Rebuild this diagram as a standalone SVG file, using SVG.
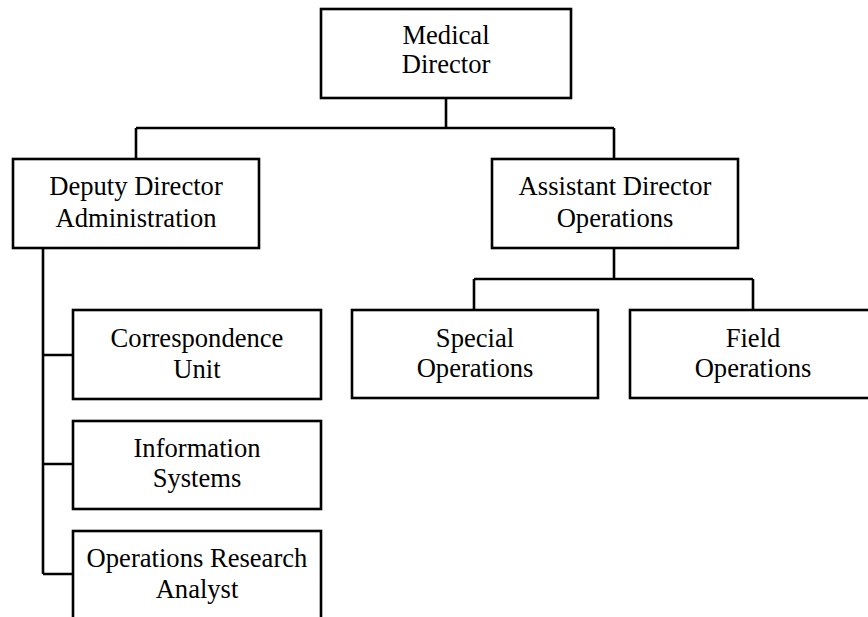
<svg xmlns="http://www.w3.org/2000/svg" width="868" height="617" viewBox="0 0 868 617">
<style>
.box{fill:#fff;stroke:#000;stroke-width:2.6}
.ln{fill:none;stroke:#000;stroke-width:2.6}
text{font-family:"Liberation Serif","Times New Roman",serif;font-size:26.6px;fill:#000;text-anchor:middle}
</style>
<rect width="868" height="617" fill="#fff"/>
<g id="connectors">
<path class="ln" d="M446 98V128M136 128H614M136 128V159M614 128V159"/>
<path class="ln" d="M614 248V279M474 279H753M474 279V310M753 279V310"/>
<path class="ln" d="M43 248V574M43 355H73M43 464H73M43 574H73"/>
</g>
<g id="medical-director"><rect class="box" x="321" y="9" width="250" height="89"/><text x="446" y="44">Medical</text><text x="446" y="73">Director</text></g>
<g id="deputy-director"><rect class="box" x="13" y="159" width="246" height="89"/><text x="136" y="195">Deputy Director</text><text x="136" y="227">Administration</text></g>
<g id="assistant-director"><rect class="box" x="492" y="159" width="246" height="89"/><text x="615" y="195">Assistant Director</text><text x="615" y="227">Operations</text></g>
<g id="special-operations"><rect class="box" x="352" y="310" width="246" height="88"/><text x="475" y="347">Special</text><text x="475" y="377">Operations</text></g>
<g id="field-operations"><rect class="box" x="630" y="310" width="246" height="88"/><text x="753" y="347">Field</text><text x="753" y="377">Operations</text></g>
<g id="correspondence-unit"><rect class="box" x="73" y="310" width="248" height="89"/><text x="197" y="347">Correspondence</text><text x="197" y="378">Unit</text></g>
<g id="information-systems"><rect class="box" x="73" y="421" width="248" height="88"/><text x="197" y="457">Information</text><text x="197" y="487">Systems</text></g>
<g id="operations-research-analyst"><rect class="box" x="73" y="531" width="248" height="100"/><text x="197" y="567">Operations Research</text><text x="197" y="598">Analyst</text></g>
</svg>
